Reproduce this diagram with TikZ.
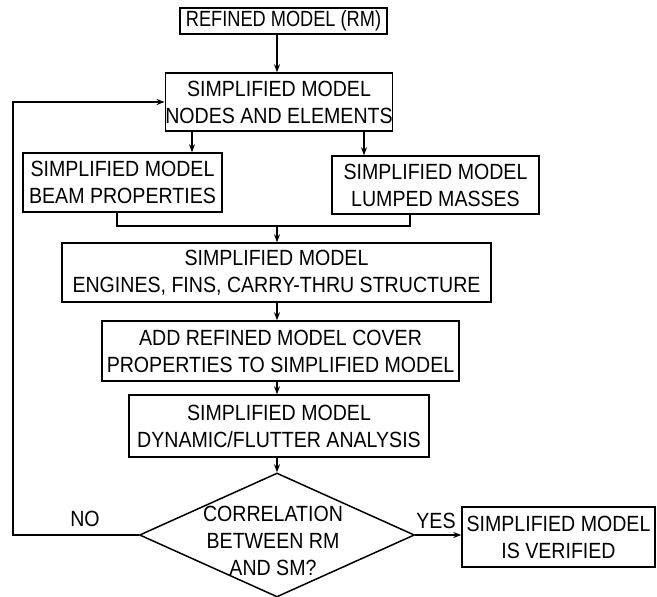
\documentclass[tikz,border=0pt]{standalone}
\usepackage{graphicx}
\usepackage{fontspec}
\setmainfont[FakeStretch=0.89]{Liberation Sans}
\usetikzlibrary{shapes.geometric,arrows.meta,calc}
\tikzset{
  box/.style={draw, line width=1.5pt, inner sep=0pt, align=center, font=\fontsize{22}{27}\selectfont},
  arr/.style={line width=1.3pt, -{Stealth[length=8pt,width=6pt]}},
  ln/.style={line width=1.3pt},
  lbl/.style={font=\fontsize{22}{27}\selectfont, inner sep=0pt}
}
\begin{document}
\begin{tikzpicture}[x=1pt,y=-1pt]
\useasboundingbox (0,0) rectangle (657,597);
\node[box, minimum width=207pt, minimum height=26pt] (rm) at (283.5,21) {\scalebox{0.93}[1]{REFINED MODEL (RM)}};
\node[box, minimum width=226pt, minimum height=58pt] (sm) at (279,102) {SIMPLIFIED MODEL\\NODES AND ELEMENTS};
\node[box, minimum width=199pt, minimum height=59pt] (beam) at (122.5,182.5) {SIMPLIFIED MODEL\\BEAM PROPERTIES};
\node[box, minimum width=207pt, minimum height=58pt] (lump) at (435.5,185) {SIMPLIFIED MODEL\\LUMPED MASSES};
\node[box, minimum width=429pt, minimum height=59pt] (eng) at (276.5,272.5) {SIMPLIFIED MODEL\\ENGINES, FINS, CARRY-THRU STRUCTURE};
\node[box, minimum width=357pt, minimum height=60pt] (add) at (280.5,351) {ADD REFINED MODEL COVER\\PROPERTIES TO SIMPLIFIED MODEL};
\node[box, minimum width=300pt, minimum height=62pt] (dyn) at (279,426) {SIMPLIFIED MODEL\\DYNAMIC/FLUTTER ANALYSIS};
\node[draw, diamond, line width=1.5pt, minimum width=275pt, minimum height=124pt, inner sep=0pt] (dec) at (277,535) {};
\node[lbl, align=center] (dectxt) at (273,541) {CORRELATION\\BETWEEN RM\\AND SM?};
\node[box, minimum width=193pt, minimum height=60pt] (ver) at (558.5,537) {SIMPLIFIED MODEL\\IS VERIFIED};
\node[lbl] (no) at (85,519) {NO};
\node[lbl] (yes) at (436,521) {YES};
\coordinate (sp) at (277,0);
\coordinate (ab) at (192,0);
\coordinate (al) at (364,0);
\coordinate (bx) at (117,0);
\coordinate (lx) at (410,0);
\coordinate (mj) at (277,226);
\coordinate (fb) at (13,0);
\draw[arr] (rm.south -| sp) -- (sm.north -| sp);
\draw[arr] (sm.south -| ab) -- (beam.north -| ab);
\draw[arr] (sm.south -| al) -- (lump.north -| al);
\draw[ln] (beam.south -| bx) |- (mj) -| (lump.south -| lx);
\draw[arr] (mj) -- (eng.north -| sp);
\draw[arr] (eng.south -| sp) -- (add.north -| sp);
\draw[arr] (add.south -| sp) -- (dyn.north -| sp);
\draw[arr] (dyn.south -| sp) -- (dec.north);
\draw[arr] (dec.west) -- (dec.west -| fb) |- (sm.west);
\draw[arr] (dec.east) -- (dec.east -| ver.west);
\end{tikzpicture}
\end{document}
